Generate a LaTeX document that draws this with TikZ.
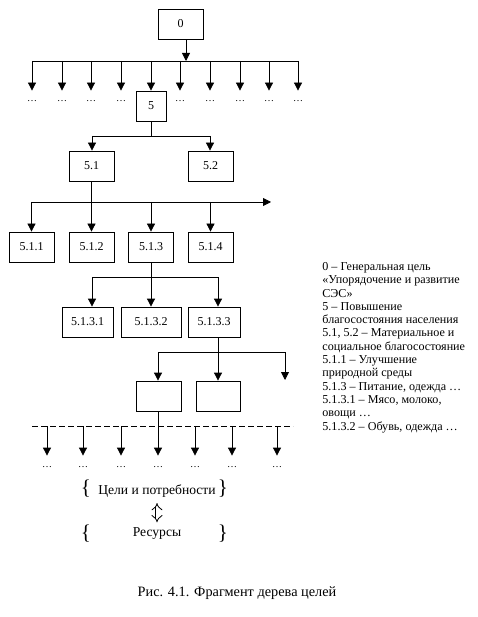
\documentclass[tikz,border=0pt]{standalone}
\usepackage{fontspec}
\setmainfont{Liberation Serif}
\usetikzlibrary{arrows.meta}

\begin{document}
\begin{tikzpicture}[x=1pt, y=-1pt,
      every path/.style={line width=0.8pt},
      box/.style={draw, minimum width=45pt, minimum height=30pt,
                  inner sep=0pt, font=\fontsize{12}{12}\selectfont},
      dots/.style={inner sep=0pt, text height=11pt, text depth=0pt,
                  font=\fontsize{10}{10}\selectfont},
      arr/.style={-{Triangle[width=8pt,length=8pt]}},
      brace/.style={inner sep=0pt, font=\fontsize{21}{21}\selectfont},
      lbl/.style={font=\fontsize{13.6}{13.6}\selectfont},
      dbl/.style={double, double distance=3pt, line width=0.8pt,
                  {Implies}-{Implies}, shorten <=2pt, shorten >=2pt}
  ]
    \useasboundingbox (0,0) rectangle (477,617);
    % level 0
    \node[box] (n0) at (180.5,24) {0};
    \coordinate (r0l) at (32,61); \coordinate (r0r) at (298,61);
    \coordinate (r0m) at (186,61);
    \draw[arr] (n0.south -| r0m) -- (r0m);
    \draw (r0l) -- (r0r);
    \node[box, minimum width=30pt] (n5) at (151,106) {5};
    \foreach \x [count=\i] in {32,62,91,121,180,210,240,269,298}
      {\node[dots, anchor=base] (d0\i) at (\x,102) {\dots};
       \draw[arr] (d0\i |- r0l) -- (d0\i.north);}
    \draw[arr] (n5 |- r0l) -- (n5.north);
    % level 1
    \coordinate (r1l) at (92,136); \coordinate (r1r) at (210,136);
    \draw (n5.south) -- (n5 |- r1l);
    \draw (r1l) -- (r1r);
    \node[box] (n51) at (91.5,166) {5.1};
    \node[box] (n52) at (210.5,166) {5.2};
    \draw[arr] (r1l) -- (r1l |- n51.north);
    \draw[arr] (r1r) -- (r1r |- n52.north);
    % level 2
    \node[box] (n511) at (31.5,247) {5.1.1};
    \node[box] (n512) at (91.5,247) {5.1.2};
    \node[box] (n513) at (151,247) {5.1.3};
    \node[box] (n514) at (210.5,247) {5.1.4};
    \coordinate (r2l) at (32,202); \coordinate (r2r) at (271,202);
    \draw[arr] (r2l) -- (r2r);
    \draw[arr] (n51) -- (n512);
    \foreach \n in {n511,n513,n514}
      \draw[arr] (\n |- r2l) -- (\n.north);
    % level 3
    \coordinate (r3l) at (92,277); \coordinate (r3r) at (218,277);
    \draw (n513.south) -- (n513 |- r3l);
    \draw (r3l) -- (r3r);
    \node[box, minimum width=51pt] (n5131) at (87.5,322) {5.1.3.1};
    \node[box, minimum width=60pt] (n5132) at (151,322) {5.1.3.2};
    \node[box, minimum width=52pt] (n5133) at (214,322) {5.1.3.3};
    \draw[arr] (r3l) -- (r3l |- n5131.north);
    \draw[arr] (n5132 |- r3l) -- (n5132.north);
    \draw[arr] (r3r) -- (r3r |- n5133.north);
    % level 4
    \coordinate (r4l) at (158,352); \coordinate (r4m) at (218,352);
    \coordinate (r4r) at (285,352);
    \draw (r3r |- n5133.south) -- (r4m);
    \draw (r4l) -- (r4r);
    \node[box] (e1) at (158.5,396) {};
    \node[box, minimum width=44pt] (e2) at (218,396) {};
    \coordinate (e3) at (285,380);
    \draw[arr] (r4l) -- (r4l |- e1.north);
    \draw[arr] (r4m) -- (e2.north);
    \draw[arr] (r4r) -- (e3);
    % level 5
    \coordinate (r5l) at (32,426); \coordinate (r5r) at (293,426);
    \draw[dash pattern=on 6pt off 3pt] (r5l) -- (r5r);
    \foreach \x [count=\i] in {47,83,121,158,195,232,277}
      \node[dots, anchor=base] (d5\i) at (\x,467) {\dots};
    \foreach \i in {1,2,3,5,6,7}
      \draw[arr] (d5\i |- r5l) -- (d5\i.north);
    \draw[arr] (e1.south -| d54) -- (d54.north);
    % goals and resources
    \node[lbl] (goal) at (157,491) {Цели и потребности};
    \node[lbl] (res) at (157,534) {Ресурсы};
    \node[brace] (gl) at (86,489) {\{};
    \node[brace] (gr) at (223,489) {\}};
    \node[brace] (rl) at (86,534) {\{};
    \node[brace] (rr) at (223,534) {\}};
    \draw[dbl] (goal) -- (res);
    % legend
    \node[anchor=north west, align=left, inner sep=0pt,
          font=\fontsize{12.1}{13.3}\selectfont] (legend) at (322,262)
      {0 – Генеральная цель\\
       «Упорядочение и развитие\\
       СЭС»\\
       5 – Повышение\\
       благосостояния населения\\
       5.1, 5.2 – Материальное и\\
       социальное благосостояние\\
       5.1.1 – Улучшение\\
       природной среды\\
       5.1.3 – Питание, одежда …\\
       5.1.3.1 – Мясо, молоко,\\
       овощи …\\
       5.1.3.2 – Обувь, одежда …};
    \node[font=\fontsize{14.3}{14.3}\selectfont] (caption) at (237,593)
      {Рис. 4.1. Фрагмент дерева целей};
  \end{tikzpicture}
\end{document}
